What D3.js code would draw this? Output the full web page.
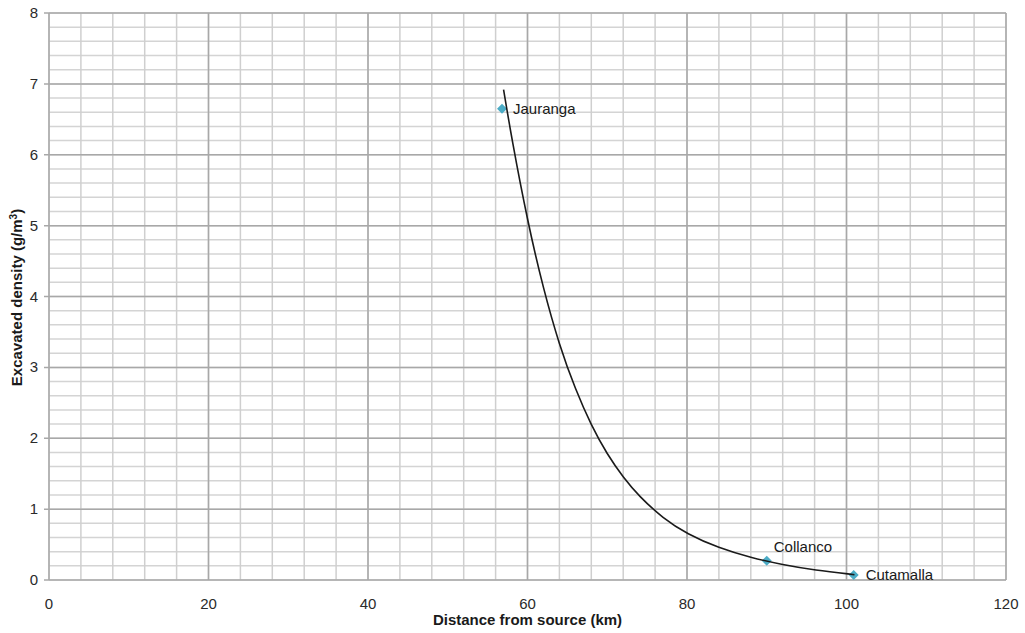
<!DOCTYPE html>
<html>
<head>
<meta charset="utf-8">
<script src="https://cdn.jsdelivr.net/npm/d3@7"></script>
<style>
  body { margin: 0; background: #fff; }
  text { font-family: "Liberation Sans", Arial, sans-serif; }
</style>
</head>
<body>
<div id="chart"></div>
<script>
// sites (km from source, excavated density g/m3)
var siteNames = ["Jauranga", "Collanco", "Cutamalla"];
var siteDist = [56.8, 90.0, 100.9];
var siteDensity = [6.65, 0.27, 0.07];

// trend line
var trendDist = [57.0, 58.0, 60.0, 62.0, 64.0, 66.0, 68.0, 70.0, 72.0, 74.0, 77.0, 80.0, 84.0, 88.0, 92.0, 96.0, 101.0];
var trendDensity = [6.92, 6.24, 5.06, 4.10, 3.31, 2.69, 2.18, 1.77, 1.45, 1.18, 0.87, 0.65, 0.45, 0.315, 0.215, 0.14, 0.075];

var xTicks = [0, 20, 40, 60, 80, 100, 120];
var yTicks = [0, 1, 2, 3, 4, 5, 6, 7, 8];

var width = 1025, height = 633;
var margin = {top: 13, right: 19, bottom: 53, left: 49};

var svg = d3.select("#chart").append("svg")
    .attr("width", width)
    .attr("height", height);

var x = d3.scaleLinear().domain([0, 120]).range([margin.left, width - margin.right]);
var y = d3.scaleLinear().domain([0, 8]).range([height - margin.bottom, margin.top]);

// minor grid
var xMinor = d3.range(0, 121, 4);
var yMinor = d3.range(0, 41).map(function(i){ return i * 0.2; });

svg.append("g").selectAll("line")
    .data(yMinor)
    .enter().append("line")
    .attr("x1", x(0)).attr("x2", x(120))
    .attr("y1", function(d){ return y(d); })
    .attr("y2", function(d){ return y(d); })
    .attr("stroke", "#d4d4d4")
    .attr("stroke-width", 1.5);

svg.append("g").selectAll("line")
    .data(xMinor)
    .enter().append("line")
    .attr("y1", y(0)).attr("y2", y(8))
    .attr("x1", function(d){ return x(d); })
    .attr("x2", function(d){ return x(d); })
    .attr("stroke", "#cfcfcf")
    .attr("stroke-width", 1.5);

// major grid
svg.append("g").selectAll("line")
    .data(yTicks)
    .enter().append("line")
    .attr("x1", x(0) - 5).attr("x2", x(120))
    .attr("y1", function(d){ return y(d); })
    .attr("y2", function(d){ return y(d); })
    .attr("stroke", "#a8a8a8")
    .attr("stroke-width", 1.5);

svg.append("g").selectAll("line")
    .data(xTicks)
    .enter().append("line")
    .attr("y1", y(0)).attr("y2", y(8) )
    .attr("x1", function(d){ return x(d); })
    .attr("x2", function(d){ return x(d); })
    .attr("stroke", "#a8a8a8")
    .attr("stroke-width", 1.5);

// tick labels
svg.append("g").selectAll("text")
    .data(xTicks)
    .enter().append("text")
    .attr("x", function(d){ return x(d); })
    .attr("y", y(0) + 29)
    .attr("text-anchor", "middle")
    .attr("font-size", "15px")
    .attr("fill", "#2a2a2a")
    .text(function(d){ return d; });

svg.append("g").selectAll("text")
    .data(yTicks)
    .enter().append("text")
    .attr("x", 38)
    .attr("y", function(d){ return y(d) + 5; })
    .attr("text-anchor", "end")
    .attr("font-size", "15px")
    .attr("fill", "#2a2a2a")
    .text(function(d){ return d; });

// axis titles
svg.append("text")
    .attr("x", (x(0) + x(120)) / 2)
    .attr("y", 625)
    .attr("text-anchor", "middle")
    .attr("font-size", "15px")
    .attr("font-weight", "bold")
    .attr("fill", "#1a1a1a")
    .text("Distance from source (km)");

var yt = svg.append("text")
    .attr("transform", "translate(22," + (y(4) + 1) + ") rotate(-90)")
    .attr("text-anchor", "middle")
    .attr("font-size", "15px")
    .attr("font-weight", "bold")
    .attr("fill", "#1a1a1a");
yt.append("tspan").text("Excavated density (g/m");
yt.append("tspan").attr("baseline-shift", "super").attr("font-size", "10px").text("3");
yt.append("tspan").text(")");

// trend line
var pts = trendDist.map(function(d, i){ return [d, trendDensity[i]]; });
var line = d3.line()
    .x(function(d){ return x(d[0]); })
    .y(function(d){ return y(d[1]); })
    .curve(d3.curveBasis);

// site markers
svg.append("g").selectAll("path")
    .data(siteNames)
    .enter().append("path")
    .attr("d", d3.symbol().type(d3.symbolSquare).size(50))
    .attr("transform", function(d, i){
        return "translate(" + x(siteDist[i]) + "," + y(siteDensity[i]) + ") rotate(45)";
    })
    .attr("fill", "#4bacc6");

svg.append("path")
    .datum(pts)
    .attr("d", line)
    .attr("fill", "none")
    .attr("stroke", "#1a1a1a")
    .attr("stroke-width", 1.6);

// site labels
var labelDx = [11, 7, 12];
var labelDy = [5, -9, 5];
svg.append("g").selectAll("text")
    .data(siteNames)
    .enter().append("text")
    .attr("x", function(d, i){ return x(siteDist[i]) + labelDx[i]; })
    .attr("y", function(d, i){ return y(siteDensity[i]) + labelDy[i]; })
    .attr("font-size", "15px")
    .attr("fill", "#1a1a1a")
    .text(function(d){ return d; });
</script>
</body>
</html>
